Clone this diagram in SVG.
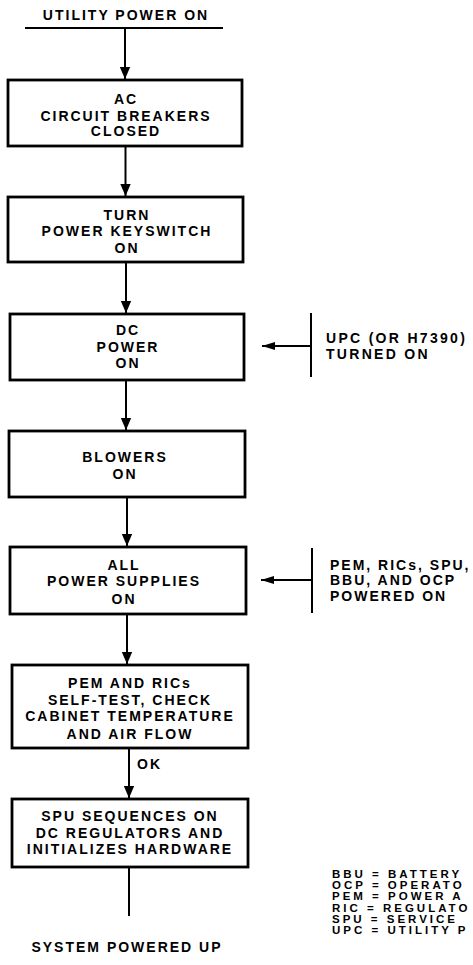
<svg xmlns="http://www.w3.org/2000/svg" width="473" height="965" viewBox="0 0 473 965">
<style>
text{font-family:"Liberation Sans",Arial,Helvetica,sans-serif;font-weight:bold;font-size:14px;letter-spacing:2px;fill:#000}
.c{text-anchor:middle}
.box{fill:#fff;stroke:#000;stroke-width:2.8}
.ln{stroke:#000;stroke-width:2;fill:none}
.lg{font-size:11.5px;letter-spacing:3px}
.nt{letter-spacing:2.3px}
</style>
<defs>
<marker id="ah" markerUnits="userSpaceOnUse" markerWidth="12" markerHeight="12" viewBox="0 0 12 12" refX="12" refY="6" orient="auto">
<path d="M0,0.8 L12,6 L0,11.2 Z" fill="#000"/>
</marker>
<marker id="ah2" markerUnits="userSpaceOnUse" markerWidth="13" markerHeight="10" viewBox="0 0 13 10" refX="13" refY="5" orient="auto">
<path d="M0,1 L13,5 L0,9 Z" fill="#000"/>
</marker>
</defs>
<rect width="473" height="965" fill="#fff"/>
<g id="connectors">
<line class="ln" x1="25" y1="28" x2="223" y2="28"/>
<line class="ln" x1="125" y1="28" x2="125" y2="79" marker-end="url(#ah)"/>
<line class="ln" x1="125.5" y1="146" x2="125.5" y2="196" marker-end="url(#ah)"/>
<line class="ln" x1="126" y1="262" x2="126" y2="313" marker-end="url(#ah)"/>
<line class="ln" x1="126" y1="380" x2="126" y2="430" marker-end="url(#ah)"/>
<line class="ln" x1="127" y1="497" x2="127" y2="546" marker-end="url(#ah)"/>
<line class="ln" x1="127" y1="614" x2="127" y2="664" marker-end="url(#ah)"/>
<line class="ln" x1="129" y1="748" x2="129" y2="798" marker-end="url(#ah)"/>
<line class="ln" x1="129" y1="867" x2="129" y2="916"/>
<line class="ln" x1="311" y1="313" x2="311" y2="377"/>
<line class="ln" x1="311" y1="346" x2="262" y2="346" marker-end="url(#ah2)"/>
<line class="ln" x1="312" y1="548" x2="312" y2="613"/>
<line class="ln" x1="312" y1="580" x2="261" y2="580" marker-end="url(#ah2)"/>
</g>
<g id="start"><text class="c" x="126" y="19.5">UTILITY POWER ON</text></g>
<g id="n1">
<rect class="box" x="8" y="80" width="234" height="66"/>
<text class="c" x="126" y="104">AC</text>
<text class="c" x="126" y="120.5">CIRCUIT BREAKERS</text>
<text class="c" x="126" y="136">CLOSED</text>
</g>
<g id="n2">
<rect class="box" x="8" y="197" width="235" height="65"/>
<text class="c" x="127" y="219.5">TURN</text>
<text class="c" x="127" y="236">POWER KEYSWITCH</text>
<text class="c" x="127" y="253">ON</text>
</g>
<g id="n3">
<rect class="box" x="10" y="314" width="234" height="66"/>
<text class="c" x="128" y="335">DC</text>
<text class="c" x="128" y="352">POWER</text>
<text class="c" x="128" y="368">ON</text>
</g>
<g id="n4">
<rect class="box" x="9" y="431" width="236" height="66"/>
<text class="c" x="125" y="462">BLOWERS</text>
<text class="c" x="125" y="478.5">ON</text>
</g>
<g id="n5">
<rect class="box" x="10" y="547" width="236" height="67"/>
<text class="c" x="124" y="570">ALL</text>
<text class="c" x="124" y="586">POWER SUPPLIES</text>
<text class="c" x="124" y="603.5">ON</text>
</g>
<g id="n6">
<rect class="box" x="12" y="665" width="236" height="83"/>
<text class="c" x="130" y="688">PEM AND RICs</text>
<text class="c" x="130" y="704.5">SELF-TEST, CHECK</text>
<text class="c" x="130" y="721">CABINET TEMPERATURE</text>
<text class="c" x="130" y="738.5">AND AIR FLOW</text>
</g>
<g id="ok"><text x="137" y="768.5">OK</text></g>
<g id="n7">
<rect class="box" x="12" y="799" width="236" height="68"/>
<text class="c" x="130" y="821">SPU SEQUENCES ON</text>
<text class="c" x="130" y="838">DC REGULATORS AND</text>
<text class="c" x="130" y="854">INITIALIZES HARDWARE</text>
</g>
<g id="end"><text class="c" x="127" y="952">SYSTEM POWERED UP</text></g>
<g id="note1">
<text class="nt" x="326" y="343">UPC (OR H7390)</text>
<text class="nt" x="326" y="359">TURNED ON</text>
</g>
<g id="note2">
<text x="330" y="570">PEM, RICs, SPU,</text>
<text x="330" y="585">BBU, AND OCP</text>
<text x="330" y="601">POWERED ON</text>
</g>
<g id="legend">
<text class="lg" x="332" y="878">BBU = BATTERY</text>
<text class="lg" x="332" y="889.2">OCP = OPERATO</text>
<text class="lg" x="332" y="900.4">PEM = POWER A</text>
<text class="lg" x="332" y="911.6">RIC = REGULATO</text>
<text class="lg" x="332" y="922.8">SPU = SERVICE</text>
<text class="lg" x="332" y="934">UPC = UTILITY P</text>
</g>
</svg>
